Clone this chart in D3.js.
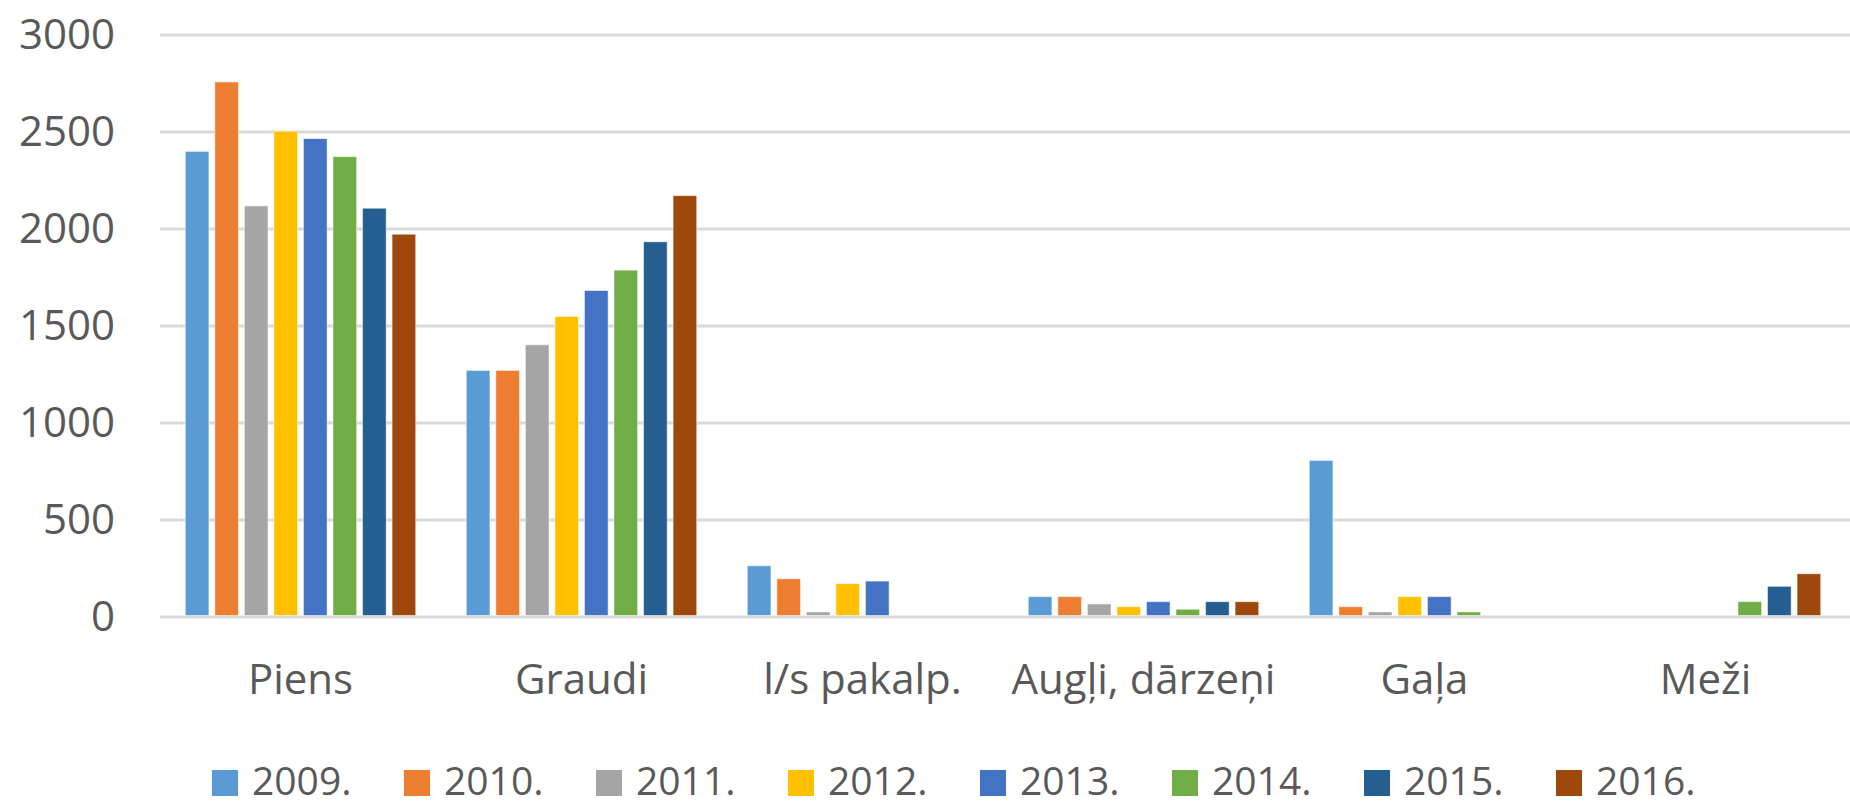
<!DOCTYPE html>
<html>
<head>
<meta charset="utf-8">
<script src="https://cdn.jsdelivr.net/npm/d3@7"></script>
<style>
  body { margin: 0; background: #fff; }
  text { font-family: "Open Sans", "Noto Sans", sans-serif; fill: #595959; }
</style>
</head>
<body>
<script>
const categories = ["Piens", "Graudi", "l/s pakalp.", "Augļi, dārzeņi", "Gaļa", "Meži"];
const years = ["2009.", "2010.", "2011.", "2012.", "2013.", "2014.", "2015.", "2016."];
const colors = ["#5B9BD5", "#ED7D31", "#A5A5A5", "#FFC000", "#4472C4", "#70AD47", "#255E91", "#9E480E"];

// values per year, in category order
const v2009 = [2400, 1271, 264, 105, 807, 0];
const v2010 = [2758, 1271, 197, 105, 53, 0];
const v2011 = [2119, 1403, 26, 67, 26, 0];
const v2012 = [2504, 1549, 172, 53, 105, 0];
const v2013 = [2466, 1683, 185, 79, 105, 0];
const v2014 = [2373, 1788, 0, 40, 26, 79];
const v2015 = [2107, 1934, 0, 79, 0, 158];
const v2016 = [1973, 2172, 0, 79, 0, 223];
const series = [v2009, v2010, v2011, v2012, v2013, v2014, v2015, v2016];

const yTicks = [0, 500, 1000, 1500, 2000, 2500, 3000];

const width = 1850, height = 806;

const svg = d3.select("body").append("svg")
  .attr("width", width)
  .attr("height", height);

const x0 = d3.scaleBand()
  .domain(categories)
  .range([160, 1846])
  .paddingInner(0.18)
  .paddingOuter(0.09);

const x1 = d3.scaleBand()
  .domain(years)
  .range([0, x0.bandwidth()])
  .paddingInner(0.2);

const y = d3.scaleLinear()
  .domain([0, 3000])
  .range([617, 35]);

// gridlines
svg.append("g")
  .selectAll("line")
  .data(yTicks)
  .join("line")
  .attr("x1", 160)
  .attr("x2", width)
  .attr("y1", d => y(d))
  .attr("y2", d => y(d))
  .attr("stroke", "#D9D9D9")
  .attr("stroke-width", 3);

// y tick labels
svg.append("g")
  .selectAll("text")
  .data(yTicks)
  .join("text")
  .attr("x", 115)
  .attr("y", d => y(d) + 14)
  .attr("text-anchor", "end")
  .attr("font-size", 42)
  .text(d => d);

// bars
const table = [];
categories.forEach((c, i) => {
  years.forEach((yr, j) => {
    table.push({ cat: c, year: yr, value: series[j][i], color: colors[j] });
  });
});

svg.append("g")
  .selectAll("rect")
  .data(table.filter(d => d.value > 0))
  .join("rect")
  .attr("x", d => x0(d.cat) + x1(d.year))
  .attr("y", d => y(d.value))
  .attr("width", x1.bandwidth())
  .attr("height", d => y(0) - y(d.value) - 1.5)
  .attr("fill", d => d.color)
  .attr("stroke", "#fff")
  .attr("stroke-opacity", 0.5)
  .attr("stroke-width", 1);

// category labels
svg.append("g")
  .selectAll("text")
  .data(categories)
  .join("text")
  .attr("x", d => x0(d) + x0.bandwidth() / 2)
  .attr("y", 694)
  .attr("text-anchor", "middle")
  .attr("font-size", 42)
  .text(d => d);

// legend
const lx = d3.scaleBand()
  .domain(years)
  .range([212, 212 + 192 * years.length]);

const item = svg.append("g")
  .selectAll("g")
  .data(years)
  .join("g")
  .attr("transform", d => `translate(${lx(d)},0)`);

item.append("rect")
  .attr("x", 0)
  .attr("y", 770)
  .attr("width", 26)
  .attr("height", 26)
  .attr("fill", (d, i) => colors[i]);

item.append("text")
  .attr("x", 40)
  .attr("y", 795)
  .attr("font-size", 39)
  .text(d => d);
</script>
</body>
</html>
